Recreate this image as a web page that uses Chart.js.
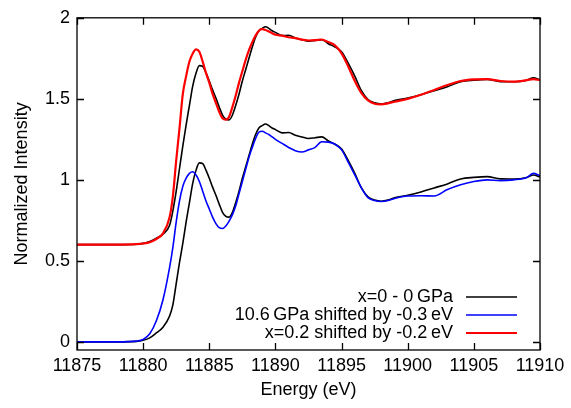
<!DOCTYPE html>
<html>
<head>
<meta charset="utf-8">
<script src="https://cdn.jsdelivr.net/npm/chart.js@4"></script>
<style>
html,body{margin:0;padding:0;background:#fff;}
#wrap{width:571px;height:408px;}
</style>
</head>
<body>
<div id="wrap"><canvas id="c" width="571" height="408"></canvas></div>
<script>
// Energy grid (eV)
const energy = [
  11875, 11878, 11879.5, 11880, 11880.5, 11881, 11881.5, 11882,
  11882.25, 11882.5, 11882.75, 11883, 11883.25, 11883.5, 11883.75, 11884,
  11884.25, 11884.5, 11884.75, 11885, 11885.25, 11885.5, 11885.75, 11886,
  11886.25, 11886.5, 11886.75, 11887, 11887.25, 11887.5, 11887.75, 11888,
  11888.25, 11888.5, 11888.75, 11889, 11889.25, 11889.5, 11889.75, 11890,
  11890.5, 11891, 11891.5, 11892, 11892.5, 11893, 11893.5, 11894, 11894.5,
  11895, 11895.5, 11896, 11896.5, 11897, 11897.5, 11898, 11898.5, 11899,
  11900, 11901, 11902, 11903, 11904, 11905, 11906, 11907, 11908, 11909, 11909.5, 11910
];
// x=0 - 0 GPa (lower curve)
const x0Lower = [
  0, 0, 0.003, 0.01, 0.025, 0.055, 0.09, 0.16,
  0.23, 0.36, 0.49, 0.61, 0.74, 0.86, 0.98, 1.06,
  1.105, 1.10, 1.06, 1.01, 0.955, 0.905, 0.85, 0.80,
  0.775, 0.77, 0.80, 0.86, 0.93, 1.01, 1.08, 1.15,
  1.22, 1.28, 1.32, 1.335, 1.345, 1.335, 1.32, 1.31,
  1.29, 1.292, 1.275, 1.265, 1.255, 1.26, 1.265, 1.24, 1.22,
  1.19, 1.12, 1.04, 0.95, 0.895, 0.875, 0.868, 0.875, 0.89,
  0.905, 0.925, 0.95, 0.975, 1.005, 1.015, 1.02, 1.006, 1.005, 1.015, 1.03, 1.018
];
// x=0 - 0 GPa (upper copy, drawn for comparison with x=0.2)
const x0Upper = [
  0.6, 0.6, 0.603, 0.608, 0.62, 0.64, 0.665, 0.72,
  0.81, 0.93, 1.07, 1.21, 1.34, 1.46, 1.58, 1.66,
  1.705, 1.70, 1.66, 1.61, 1.555, 1.505, 1.45, 1.40,
  1.375, 1.37, 1.40, 1.46, 1.53, 1.61, 1.68, 1.75,
  1.82, 1.88, 1.92, 1.935, 1.945, 1.935, 1.92, 1.91,
  1.89, 1.892, 1.875, 1.865, 1.855, 1.86, 1.865, 1.84, 1.82,
  1.79, 1.72, 1.64, 1.55, 1.495, 1.475, 1.468, 1.475, 1.49,
  1.505, 1.525, 1.55, 1.575, 1.605, 1.615, 1.62, 1.606, 1.605, 1.615, 1.63, 1.618
];
// 10.6 GPa shifted by -0.3 eV
const p106 = [
  0, 0, 0.005, 0.015, 0.05, 0.13, 0.26, 0.46,
  0.585, 0.74, 0.87, 0.96, 1.01, 1.04, 1.05, 1.03,
  0.99, 0.93, 0.87, 0.82, 0.77, 0.73, 0.705, 0.70,
  0.715, 0.745, 0.785, 0.84, 0.915, 0.99, 1.065, 1.14,
  1.20, 1.255, 1.295, 1.30, 1.29, 1.28, 1.265, 1.25,
  1.225, 1.20, 1.18, 1.172, 1.185, 1.20, 1.235, 1.233, 1.22,
  1.185, 1.11, 1.03, 0.95, 0.89, 0.872, 0.866, 0.872, 0.885,
  0.9, 0.902, 0.9, 0.94, 0.97, 0.99, 1.0, 0.995, 1.0, 1.015, 1.04, 1.026
];
// x=0.2 shifted by -0.2 eV
const x02 = [
  0.6, 0.6, 0.603, 0.607, 0.615, 0.635, 0.67, 0.77,
  0.90, 1.12, 1.32, 1.53, 1.64, 1.73, 1.78, 1.805,
  1.79, 1.73, 1.66, 1.60, 1.53, 1.475, 1.42, 1.38,
  1.372, 1.39, 1.45, 1.52, 1.60, 1.67, 1.74, 1.80,
  1.85, 1.89, 1.92, 1.93, 1.925, 1.915, 1.905, 1.895,
  1.89, 1.88, 1.875, 1.865, 1.86, 1.862, 1.866, 1.85, 1.83,
  1.78, 1.70, 1.61, 1.535, 1.49, 1.47, 1.466, 1.472, 1.482,
  1.50, 1.525, 1.555, 1.585, 1.61, 1.62, 1.622, 1.61, 1.606, 1.615, 1.622, 1.615
];
const xTicks = [11875, 11880, 11885, 11890, 11895, 11900, 11905, 11910];
const yTicks = [0, 0.5, 1, 1.5, 2];
const legendLabels = ['x=0 - 0\u2009GPa', '10.6\u2009GPa shifted by -0.3\u2009eV', 'x=0.2 shifted by -0.2\u2009eV'];
const legendColors = ['#000000', '#0000ff', '#ff0000'];

const pts = arr => energy.map((e, i) => ({x: e, y: arr[i]}));
const FONT = 'Liberation Sans, Arial, Helvetica, sans-serif';

const frame = {
  id: 'frame',
  afterDatasetsDraw(chart) {
    const {ctx, chartArea: a, scales} = chart;
    ctx.save();
    ctx.strokeStyle = '#000';
    ctx.lineWidth = 1.3;
    ctx.strokeRect(a.left, a.top, a.right - a.left, a.bottom - a.top);
    const L = 7;
    ctx.beginPath();
    xTicks.forEach(v => {
      const px = Math.round(scales.x.getPixelForValue(v)) + 0.5;
      ctx.moveTo(px, a.bottom); ctx.lineTo(px, a.bottom - L);
      ctx.moveTo(px, a.top); ctx.lineTo(px, a.top + L);
    });
    yTicks.forEach(v => {
      const py = Math.round(scales.y.getPixelForValue(v)) + 0.5;
      ctx.moveTo(a.left, py); ctx.lineTo(a.left + L, py);
      ctx.moveTo(a.right, py); ctx.lineTo(a.right - L, py);
    });
    ctx.stroke();
    // legend
    ctx.font = '18px ' + FONT;
    ctx.textAlign = 'right';
    ctx.textBaseline = 'middle';
    const rows = [297, 315, 333];
    legendLabels.forEach((t, i) => {
      ctx.fillStyle = '#000';
      ctx.fillText(t, 453, rows[i]);
      ctx.strokeStyle = legendColors[i];
      ctx.lineWidth = i === 2 ? 2 : 1.5;
      ctx.beginPath();
      ctx.moveTo(466, rows[i]); ctx.lineTo(517, rows[i]);
      ctx.stroke();
    });
    ctx.restore();
  }
};

new Chart(document.getElementById('c'), {
  type: 'line',
  data: {
    datasets: [
      {label: 'x=0 - 0 GPa', data: pts(x0Lower), borderColor: '#000000', borderWidth: 1.6, order: 3},
      {label: 'x=0 - 0 GPa (upper)', data: pts(x0Upper), borderColor: '#000000', borderWidth: 1.6, order: 2},
      {label: '10.6 GPa shifted by -0.3 eV', data: pts(p106), borderColor: '#0000ff', borderWidth: 1.6, order: 1},
      {label: 'x=0.2 shifted by -0.2 eV', data: pts(x02), borderColor: '#ff0000', borderWidth: 2.2, order: 0}
    ]
  },
  options: {
    responsive: false,
    animation: false,
    devicePixelRatio: 1,
    layout: {padding: {top: 12, right: 31, left: 0, bottom: 0}},
    elements: {point: {radius: 0}, line: {cubicInterpolationMode: 'monotone', fill: false}},
    plugins: {legend: {display: false}, tooltip: {enabled: false}},
    scales: {
      x: {
        type: 'linear', min: 11875, max: 11910,
        afterBuildTicks: s => { s.ticks = xTicks.map(v => ({value: v})); },
        afterFit: s => { s.height = 58; },
        ticks: {color: '#000', font: {size: 18, family: FONT}, padding: 5, maxRotation: 0, autoSkip: false,
                callback: v => String(v)},
        grid: {display: false, drawTicks: false},
        border: {display: false},
        title: {display: true, text: 'Energy (eV)', color: '#000', font: {size: 18, family: FONT}, padding: {top: 0, bottom: 7}}
      },
      y: {
        type: 'linear', min: -0.05, max: 2,
        afterBuildTicks: s => { s.ticks = yTicks.map(v => ({value: v})); },
        afterFit: s => { s.width = 77; },
        ticks: {color: '#000', font: {size: 18, family: FONT}, padding: 7, autoSkip: false,
                callback: v => String(v)},
        grid: {display: false, drawTicks: false},
        border: {display: false},
        title: {display: true, text: 'Normalized Intensity', color: '#000', font: {size: 18, family: FONT}, padding: {top: 11, bottom: 0}}
      }
    }
  },
  plugins: [frame]
});
</script>
</body>
</html>
